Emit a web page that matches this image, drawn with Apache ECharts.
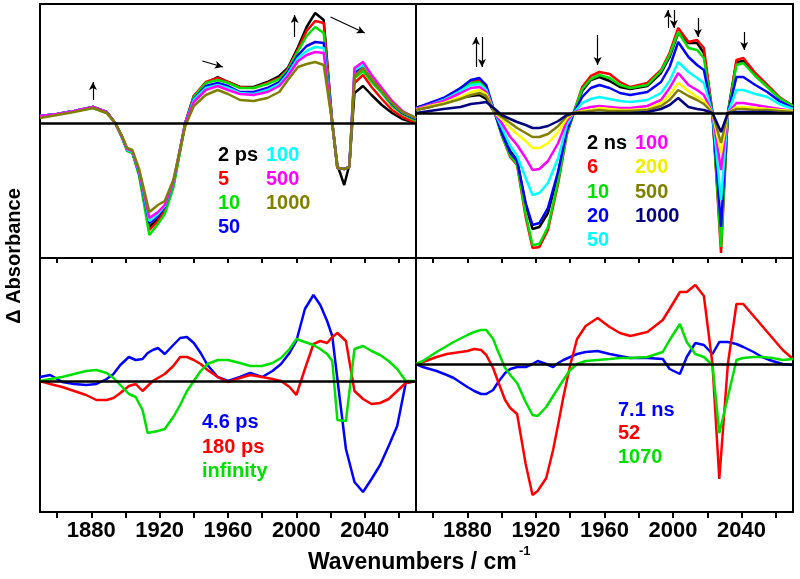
<!DOCTYPE html>
<html>
<head>
<meta charset="utf-8">
<script src="https://cdn.jsdelivr.net/npm/echarts@6/dist/echarts.min.js"></script>
<style>html,body{margin:0;padding:0;background:#fff;}#c{width:800px;height:579px;}</style>
</head>
<body>
<div id="c"></div>
<script>
// ---------- tick labels ----------
var TICK_CATS = [];
for (var t = 1850; t <= 2070; t += 10) TICK_CATS.push(String(t));

// ---------- top-left: ps spectra ----------
var TL_X = [1850,1860,1870,1881,1889,1894,1898,1901,1904,1908,1914,1919,1923,1928,1935,1940,1947,1954,1960,1967,1975,1983,1990,1995,2001,2006,2011,2016,2021,2024,2028,2031,2034,2039,2044,2050,2056,2062,2070];
var TL_2ps   = [6,9,12,16,11,0,-14,-27,-29,-50,-104,-96,-86,-62,0,27,40,46,41,36,36,41,47,55,76,96,110,103,0,-42,-62,-42,30,37,28,18,10,4,0];
var TL_5ps   = [7,9,12,16,11,0,-14,-27,-29,-51,-107,-98,-88,-63,0,27,41,45,41,36,35,40,45,54,74,92,102,100,0,-45,-46,-44,40,48,36,24,13,6,0];
var TL_10ps  = [7,9,12,15,10,0,-15,-28,-30,-53,-112,-101,-91,-65,-1,26,40,43,40,35,35,39,44,53,72,87,96,90,0,-45,-46,-44,45,52,41,30,17,9,2];
var TL_50ps  = [7,9,12,16,11,0,-14,-27,-29,-50,-100,-93,-84,-60,0,24,37,40,37,31,31,35,41,51,68,77,81,80,0,-45,-46,-44,50,56,44,32,19,10,4];
var TL_100ps = [7,9,12,16,11,0,-14,-27,-29,-49,-98,-91,-83,-60,0,23,35,38,35,30,29,33,39,49,65,72,76,75,0,-45,-46,-44,53,58,46,32,20,11,5];
var TL_500ps = [7,9,12,16,11,0,-14,-26,-28,-48,-95,-89,-82,-59,0,21,33,37,33,29,28,31,37,47,62,68,71,70,0,-45,-46,-44,55,61,48,35,22,12,5];
var TL_1000ps= [5,8,11,15,10,0,-13,-25,-27,-46,-89,-82,-78,-57,-3,17,28,33,29,23,22,25,31,43,56,59,61,58,0,-45,-46,-44,47,55,44,32,20,11,5];
var TL_ARROWS = [[[1881,23],[1881,41]],[[1945,62],[1957,56]],[[1999,86],[1999,108]],[[2020,106],[2040,90]]];

// ---------- top-right: ns spectra ----------
var TR_X = [1850,1858,1866,1876,1882,1887,1891,1896,1900,1905,1909,1914,1918,1922,1927,1933,1938,1942,1947,1952,1957,1963,1969,1975,1985,1993,1998,2003,2009,2014,2018,2023,2028,2032,2037,2041,2048,2055,2062,2070];
var TR_2ns   = [3,6,10,15,17,18,14,0,-18,-38,-47,-92,-116,-114,-100,-60,-18,0,22,33,36,32,26,24,27,40,56,80,70,70,60,0,-128,0,51,52,38,27,15,7];
var TR_6ns   = [5,9,14,25,31,33,25,0,-22,-44,-52,-104,-135,-134,-117,-70,-22,0,26,37,41,39,31,26,30,43,60,85,71,73,65,0,-140,0,53,55,40,28,16,7];
var TR_10ns  = [5,9,14,24,30,31,24,0,-22,-43,-51,-101,-132,-131,-114,-68,-21,0,24,34,38,35,28,25,28,42,58,81,65,63,55,0,-134,0,48,50,37,26,15,7];
var TR_20ns  = [5,10,15,25,33,35,28,0,-20,-40,-48,-90,-112,-110,-95,-58,-18,0,16,25,28,25,20,18,21,31,46,71,56,48,43,0,-114,0,36,36,28,21,12,5];
var TR_50ns  = [4,8,13,22,28,29,23,0,-14,-33,-43,-65,-82,-80,-70,-45,-12,0,10,14,16,14,12,11,13,20,32,51,41,35,30,0,-87,0,23,23,19,16,9,4];
var TR_100ns = [4,8,12,20,25,26,21,0,-10,-24,-32,-45,-57,-56,-48,-30,-8,0,4,6,7,6,5,5,7,13,25,40,28,23,18,0,-57,0,10,10,8,6,4,2];
var TR_200ns = [3,7,10,16,21,23,19,0,-6,-15,-21,-28,-35,-35,-30,-19,-5,0,2,3,5,4,3,3,4,10,18,30,22,16,12,0,-40,0,6,6,5,4,3,2];
var TR_500ns = [3,6,9,14,18,20,17,1,-4,-10,-15,-20,-24,-24,-21,-13,-3,0,1,2,3,2,2,2,3,7,13,23,17,13,9,0,-30,0,4,4,3,3,2,1];
var TR_1000ns= [0,2,4,6,9,10,11,4,-2,-6,-9,-12,-15,-15,-13,-8,-2,0,0,0,0,0,0,0,1,4,8,15,6,4,3,0,-19,0,1,1,1,1,0,0];
var TR_ARROWS = [[[1885,46],[1885,76]],[[1888.5,76],[1888.5,46]],[[1956,78],[1956,48]],[[1997,85],[1997,103]],[[2000.5,103],[2000.5,85]],[[2014.5,95],[2014.5,76]],[[2041.5,81],[2041.5,63]]];

// ---------- bottom-left: ps decay-associated spectra ----------
var BL_X = [1850,1856,1863,1870,1877,1883,1889,1893,1897,1902,1906,1910,1913,1916,1919,1923,1928,1932,1936,1940,1944,1948,1954,1960,1967,1973,1980,1986,1991,1996,2000,2005,2010,2014,2018,2021,2024,2029,2034,2039,2044,2049,2054,2059,2064,2070];
var BL_4_6ps = [4,6,-1,-3,-4,-3,2,7,16,24,21,22,28,31,33,27,36,43,44,38,28,16,4,0,4,8,4,10,17,28,40,72,86,76,60,45,2,-68,-101,-111,-98,-84,-65,-45,-2,0];
var BL_180ps = [0,-3,-6,-10,-14,-19,-19,-17,-12,-5,-3,-10,-5,0,3,7,15,24,24,21,17,11,4,-1,3,6,4,2,0,-6,-14,12,37,40,38,44,48,40,-10,-18,-23,-22,-18,-10,-2,0];
var BL_inf   = [0,2,4,7,10,11,8,3,-4,-13,-16,-29,-52,-51,-50,-48,-36,-24,-10,0,10,17,21,21,18,15,15,18,23,32,42,39,36,32,27,20,-39,-40,32,35,30,26,20,12,0,0];

// ---------- bottom-right: ns decay-associated spectra ----------
var BR_X = [1850,1854,1862,1868,1872,1880,1884,1888,1891,1895,1898,1902,1905,1909,1914,1918,1921,1926,1930,1933,1936,1940,1944,1949,1956,1963,1969,1975,1985,1994,1998,2004,2008,2013,2018,2023,2027,2032,2037,2041,2047,2052,2058,2064,2070];
var BR_7_1ns = [0,-3,-7,-11,-14,-23,-27,-30,-30,-26,-18,-9,-5,-3,-3,0,3,0,-3,1,4,7,10,12,13,10,8,6,6,5,-5,-10,7,21,19,10,22,22,20,17,12,7,3,0,-1];
var BR_52ns  = [0,2,7,10,11,13,15,14,9,-4,-18,-36,-44,-50,-100,-131,-127,-114,-86,-60,-33,-1,25,38,46,37,31,28,32,44,55,72,72,79,68,0,-115,0,60,60,48,38,26,14,5];
var BR_1070ns= [0,3,12,18,22,29,32,34,34,25,12,-4,-11,-19,-38,-51,-52,-43,-32,-24,-16,-6,0,3,4,5,6,6,7,12,24,40,22,10,7,-1,-69,-33,4,6,7,7,6,4,5];

var C = {black:'#000000', red:'#ff0000', green:'#00e000', blue:'#0000ff', cyan:'#00ffff', magenta:'#ff00ff', olive:'#808000', yellow:'#ffff00', navy:'#000080'};

function pairs(xs, ys){ return xs.map(function(x,i){ return [x, ys[i]]; }); }
function mk(name, xs, ys, color, gi){
  return {name:name, type:'line', xAxisIndex:gi, yAxisIndex:gi, data:pairs(xs,ys),
    showSymbol:false, symbol:'none', smooth:false, animation:false, silent:true,
    lineStyle:{color:color, width:2.5}, itemStyle:{color:color}};
}
function zeroLine(){
  return {silent:true, symbol:['none','none'], label:{show:false}, animation:false,
    lineStyle:{color:'#000', width:2.5, type:'solid'}, data:[{yAxis:0}]};
}
function arrows(list){
  return {silent:true, symbol:['none','arrow'], symbolSize:[6,8], label:{show:false}, animation:false,
    lineStyle:{color:'#000', width:1.2, type:'solid'},
    data:list.map(function(a){ return [{coord:a[0]},{coord:a[1]}]; })};
}

var series = [];
var tl = [mk('2 ps',TL_X,TL_2ps,C.black,0), mk('5',TL_X,TL_5ps,C.red,0), mk('10',TL_X,TL_10ps,C.green,0),
  mk('50',TL_X,TL_50ps,C.blue,0), mk('100',TL_X,TL_100ps,C.cyan,0), mk('500',TL_X,TL_500ps,C.magenta,0), mk('1000',TL_X,TL_1000ps,C.olive,0)];
tl[0].markLine = arrows(TL_ARROWS); tl[tl.length-1].markLine = zeroLine();
var tr = [mk('2 ns',TR_X,TR_2ns,C.black,1), mk('6',TR_X,TR_6ns,C.red,1), mk('10',TR_X,TR_10ns,C.green,1), mk('20',TR_X,TR_20ns,C.blue,1),
  mk('50',TR_X,TR_50ns,C.cyan,1), mk('100',TR_X,TR_100ns,C.magenta,1), mk('200',TR_X,TR_200ns,C.yellow,1), mk('500',TR_X,TR_500ns,C.olive,1), mk('1000',TR_X,TR_1000ns,C.navy,1)];
tr[0].markLine = arrows(TR_ARROWS); tr[tr.length-1].markLine = zeroLine();
var bl = [mk('4.6 ps',BL_X,BL_4_6ps,C.blue,2), mk('180 ps',BL_X,BL_180ps,C.red,2), mk('infinity',BL_X,BL_inf,C.green,2)];
bl[bl.length-1].markLine = zeroLine();
var br = [mk('7.1 ns',BR_X,BR_7_1ns,C.blue,3), mk('52',BR_X,BR_52ns,C.red,3), mk('1070',BR_X,BR_1070ns,C.green,3)];
br[br.length-1].markLine = zeroLine();
series = series.concat(tl, tr, bl, br);

var gridBase = {show:true, borderColor:'#000', borderWidth:2, backgroundColor:'transparent', containLabel:false};
var grids = [
  Object.assign({left:40, top:4, width:376, height:254}, gridBase),
  Object.assign({left:416, top:4, width:377, height:254}, gridBase),
  Object.assign({left:40, top:258, width:376, height:254}, gridBase),
  Object.assign({left:416, top:258, width:377, height:254}, gridBase)
];

function valX(gi){ return {type:'value', gridIndex:gi, min:1850, max:2070, show:false, splitLine:{show:false}}; }
function tickInt(i, v){ return (+v) % 20 === 0; }
function labInt(i, v){ v = +v; return v >= 1880 && v <= 2040 && (v - 1880) % 40 === 0; }
function catBottom(gi){
  return {type:'category', gridIndex:gi, position:'bottom', data:TICK_CATS, boundaryGap:false,
    axisLine:{show:false}, splitLine:{show:false},
    axisTick:{show:true, inside:false, length:6, interval:tickInt, lineStyle:{color:'#000', width:2}},
    axisLabel:{show:true, interval:labInt, margin:8, color:'#000', fontSize:22, fontWeight:'bold', fontFamily:'"Liberation Sans", Arial, sans-serif'}};
}
function catTop(gi){
  return {type:'category', gridIndex:gi, position:'top', data:TICK_CATS, boundaryGap:false,
    axisLine:{show:false}, splitLine:{show:false},
    axisTick:{show:true, inside:true, length:5, interval:tickInt, lineStyle:{color:'#000', width:2}},
    axisLabel:{show:false}};
}
var xAxes = [valX(0), valX(1), valX(2), valX(3), catBottom(2), catBottom(3), catTop(2), catTop(3)];
var Y_RANGES = [[-135,119],[-145,109],[-131,123],[-148,106]];
var yAxes = Y_RANGES.map(function(r, gi){ return {type:'value', gridIndex:gi, min:r[0], max:r[1], show:false, splitLine:{show:false}}; });

var FONT = 'bold 20px "Liberation Sans", Arial, sans-serif';
function txt(s, x, y, color){ return {type:'text', x:x, y:y, silent:true, style:{text:s, fill:color, font:FONT, textVerticalAlign:'middle', verticalAlign:'middle'}}; }
var LEGENDS = [
  ['2 ps',218,155,C.black],['5',218,179,C.red],['10',218,203,C.green],['50',218,227,C.blue],
  ['100',266,155,C.cyan],['500',266,179,C.magenta],['1000',266,203,C.olive],
  ['2 ns',587,143,C.black],['6',587,167,C.red],['10',587,192,C.green],['20',587,216,C.blue],['50',587,240,C.cyan],
  ['100',635,143,C.magenta],['200',635,167,'#eeee00'],['500',635,192,C.olive],['1000',635,216,C.navy],
  ['4.6 ps',202,422,C.blue],['180 ps',202,447,C.red],['infinity',202,471,C.green],
  ['7.1 ns',618,410,C.blue],['52',618,433,C.red],['1070',618,457,C.green]
];
var graphics = LEGENDS.map(function(l){ return txt(l[0], l[1], l[2], l[3]); });
graphics.push({type:'text', x:14, y:256, rotation:Math.PI/2, silent:true,
  style:{text:'\u0394 Absorbance', fill:'#000', font:FONT, textAlign:'center', textVerticalAlign:'middle', align:'center', verticalAlign:'middle'}});
graphics.push({type:'text', x:308, y:563, silent:true,
  style:{text:'Wavenumbers / cm', fill:'#000', font:'bold 23px "Liberation Sans", Arial, sans-serif', textVerticalAlign:'middle', verticalAlign:'middle'}});
graphics.push({type:'text', x:519, y:551, silent:true,
  style:{text:'-1', fill:'#000', font:'bold 13px "Liberation Sans", Arial, sans-serif', textVerticalAlign:'middle', verticalAlign:'middle'}});

var chart = echarts.init(document.getElementById('c'), null, {renderer:'canvas'});
chart.setOption({
  animation:false,
  backgroundColor:'#fff',
  grid:grids, xAxis:xAxes, yAxis:yAxes, series:series, graphic:graphics
});
</script>
</body>
</html>
